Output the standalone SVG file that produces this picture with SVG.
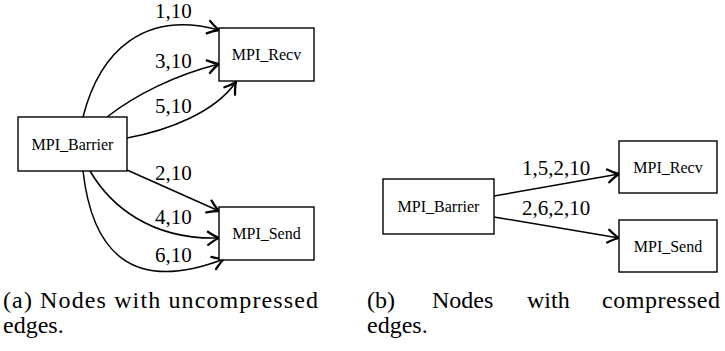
<svg xmlns="http://www.w3.org/2000/svg" width="725" height="351" viewBox="0 0 725 351">
  <defs>
    <style>
      text { font-family: "Liberation Serif", "Times New Roman", Times, serif; fill: #000000; }
      .box { fill: #ffffff; stroke: #000000; stroke-width: 1.4; }
      .nlabel { font-size: 16px; text-anchor: middle; }
      .elabel { font-size: 21px; }
      .edge { fill: none; stroke: #000000; stroke-width: 1.5; marker-end: url(#arrow); }
      .caption { font-size: 24px; }
    </style>
    <!-- open V arrowhead with slightly curved barbs -->
    <marker id="arrow" viewBox="-14 -9 16 18" markerWidth="16" markerHeight="18" refX="0" refY="0" markerUnits="userSpaceOnUse" orient="auto">
      <path d="M-11,-6.5 Q-4.5,-1.8 0,0 Q-4.5,1.8 -11,6.5" fill="none" stroke="#000000" stroke-width="2.3" stroke-linecap="round" stroke-linejoin="round"/>
    </marker>
  </defs>

  <!-- (a) uncompressed edges -->
  <g id="edges-a">
    <path class="edge" d="M83,117 C100,50 145,10 219,30"/>
    <path class="edge" d="M107,117 C135,95 175,75 219,64"/>
    <path class="edge" d="M127,138 C170,130 215,112 236,82"/>
    <path class="edge" d="M127,170 L219,211"/>
    <path class="edge" d="M90,171 C110,205 150,240 219,238"/>
    <path class="edge" d="M83,171 C92,250 130,295 224,259"/>
    <text class="elabel" x="155" y="18">1,10</text>
    <text class="elabel" x="155" y="68">3,10</text>
    <text class="elabel" x="155" y="113">5,10</text>
    <text class="elabel" x="155" y="180">2,10</text>
    <text class="elabel" x="155" y="224">4,10</text>
    <text class="elabel" x="155" y="262">6,10</text>
  </g>
  <g id="a-barrier">
    <rect class="box" x="18" y="117" width="109" height="54"/>
    <text class="nlabel" x="72.5" y="149.5">MPI_Barrier</text>
  </g>
  <g id="a-recv">
    <rect class="box" x="219" y="28" width="95" height="53"/>
    <text class="nlabel" x="266.5" y="60">MPI_Recv</text>
  </g>
  <g id="a-send">
    <rect class="box" x="219" y="207" width="95" height="53"/>
    <text class="nlabel" x="266.5" y="239">MPI_Send</text>
  </g>

  <!-- (b) compressed edges -->
  <g id="edges-b">
    <path class="edge" d="M494,196 L619,174"/>
    <path class="edge" d="M494,217 L619,238"/>
    <text class="elabel" x="522" y="175">1,5,2,10</text>
    <text class="elabel" x="522" y="215">2,6,2,10</text>
  </g>
  <g id="b-barrier">
    <rect class="box" x="383" y="179" width="111" height="55"/>
    <text class="nlabel" x="438.5" y="212">MPI_Barrier</text>
  </g>
  <g id="b-recv">
    <rect class="box" x="619" y="141" width="98" height="52"/>
    <text class="nlabel" x="668" y="173">MPI_Recv</text>
  </g>
  <g id="b-send">
    <rect class="box" x="619" y="220" width="98" height="52"/>
    <text class="nlabel" x="668" y="252">MPI_Send</text>
  </g>

  <!-- sub-captions -->
  <g id="captions">
    <text class="caption" x="3" y="308" textLength="315" lengthAdjust="spacing">(a) Nodes with uncompressed</text>
    <text class="caption" x="3" y="333">edges.</text>
    <text class="caption" x="367" y="308">(b)</text>
    <text class="caption" x="432" y="308">Nodes</text>
    <text class="caption" x="527" y="308">with</text>
    <text class="caption" x="602" y="308" textLength="118" lengthAdjust="spacing">compressed</text>
    <text class="caption" x="367" y="333">edges.</text>
  </g>
</svg>
